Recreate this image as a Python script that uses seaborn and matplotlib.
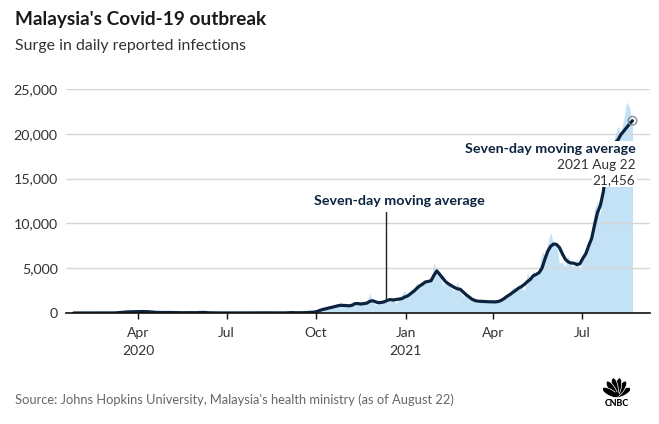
import matplotlib
matplotlib.use("Agg")
import numpy as np
import pandas as pd
import seaborn as sns
import matplotlib.pyplot as plt
from matplotlib.patches import Ellipse, Rectangle

# ---------------- data ----------------
# 7-day average, weekly points (Sundays) Jan 26 2020 .. Sep 13 2020
avg_early_start = "2020-01-26"
avg_early = [1, 1, 2, 1, 0, 1, 8, 70, 125, 150,
             165, 140, 75, 50, 60, 45, 30, 40, 35, 70,
             20, 10, 5, 5, 8, 12, 10, 12, 18, 10,
             12, 10, 45, 25]

# every third day, Sep 20 2020 .. Aug 22 2021
recent_start = "2020-09-20"
avg_recent = [40, 60, 80, 100, 170, 300, 400, 470, 560, 630,
              720, 800, 860, 850, 830, 800, 870, 1050, 1050, 1000,
              1050, 1100, 1300, 1370, 1250, 1150, 1180, 1250, 1400, 1500,
              1450, 1500, 1560, 1600, 1780, 1900, 2150, 2400, 2700, 3000,
              3200, 3450, 3520, 3600, 4200, 4700, 4300, 3900, 3500, 3250,
              3050, 2850, 2700, 2650, 2350, 2050, 1800, 1550, 1400, 1320,
              1300, 1290, 1270, 1250, 1250, 1240, 1280, 1400, 1600, 1850,
              2050, 2300, 2520, 2780, 2950, 3200, 3500, 3750, 4150, 4300,
              4500, 5000, 6000, 6900, 7450, 7700, 7650, 7300, 6600, 6000,
              5700, 5580, 5550, 5400, 5500, 6100, 6600, 7500, 8300, 9800,
              11200, 12000, 13500, 15800, 17600, 18500, 19000, 19300, 19900, 20300,
              20700, 21100, 21456]
daily_recent = [50, 82, 111, 101, 287, 432, 374, 561, 660, 869,
                862, 710, 1240, 649, 957, 1032, 852, 869, 1109, 1208,
                1290, 1096, 2188, 1315, 851, 1141, 1123, 1478, 1229, 1295,
                1683, 1018, 1581, 2041, 2525, 1704, 2593, 2643, 3309, 3142,
                3306, 3631, 3346, 3585, 5728, 4214, 4734, 3100, 3384, 3297,
                2720, 2461, 3545, 2364, 1828, 2063, 1745, 1529, 1340, 1063,
                1575, 1116, 1294, 1143, 1288, 1358, 1139, 1514, 1889, 2148,
                1998, 2875, 2847, 2776, 2881, 2500, 4519, 3733, 4765, 4113,
                4865, 6806, 6509, 7857, 9020, 7703, 7748, 5566, 5671, 5150,
                6440, 5293, 5244, 6180, 4700, 6658, 6387, 7654, 9105, 11618,
                12541, 10972, 15573, 14516, 17170, 17786, 19819, 20889, 19991, 21668,
                23564, 22948, 20696]

tick_dates = ["2020-04-01", "2020-07-01", "2020-10-01", "2021-01-01", "2021-04-01", "2021-07-01"]
tick_labels = ["Apr\n2020", "Jul", "Oct", "Jan\n2021", "Apr", "Jul"]
y_ticks = [0, 5000, 10000, 15000, 20000, 25000]

title = "Malaysia's Covid-19 outbreak"
subtitle = "Surge in daily reported infections"
source = "Source: Johns Hopkins University, Malaysia's health ministry (as of August 22)"
note_mid = "Seven-day moving average"
note_date = "2021 Aug 22"
note_value = "21,456"
note_mid_date = "2020-12-12"

# ---------------- frames ----------------
early_dates = pd.date_range(avg_early_start, periods=len(avg_early), freq="7D")
recent_dates = pd.date_range(recent_start, periods=len(avg_recent), freq="3D")
avg_df = pd.DataFrame({
    "date": list(early_dates) + list(recent_dates),
    "avg": avg_early + avg_recent,
})
daily_df = pd.DataFrame({"date": recent_dates, "cases": daily_recent})

# ---------------- figure ----------------
sns.set_theme(style="white")
plt.rcParams["font.family"] = ["Lato", "DejaVu Sans"]

NAVY = "#0c2340"
AREA = "#c4e2f5"

fig = plt.figure(figsize=(6.59, 4.24), dpi=100)
ax = fig.add_axes([66 / 659, 111 / 424, 584 / 659, 224 / 424])

ax.fill_between(daily_df["date"], 0, daily_df["cases"], color=AREA, lw=0, zorder=1)
sns.lineplot(data=avg_df, x="date", y="avg", ax=ax, color=NAVY, lw=2.3, zorder=3)

last = avg_df.iloc[-1]
ax.scatter([last["date"]], [last["avg"]], s=38, facecolor="none", edgecolor="#8a8a8a",
           lw=1, zorder=6)

ax.set_xlim(pd.Timestamp("2020-01-18"), pd.Timestamp("2021-09-09"))
ax.set_ylim(0, 25000)
ax.set_yticks(y_ticks)
ax.set_yticklabels([f"{v:,}" for v in y_ticks])
ax.set_xticks(pd.to_datetime(tick_dates))
ax.set_xticklabels(tick_labels, linespacing=1.6)
ax.set_xlabel("")
ax.set_ylabel("")

ax.set_axisbelow("line")
ax.yaxis.grid(True, color="#d6d6d6", lw=1)
ax.xaxis.grid(False)
for s in ["left", "top", "right"]:
    ax.spines[s].set_visible(False)
ax.spines["bottom"].set_color("#111111")
ax.spines["bottom"].set_linewidth(1.2)
ax.spines["bottom"].set_zorder(4)
ax.tick_params(axis="x", length=4, width=1, colors="#111111", labelcolor="#333333",
               labelsize=10, pad=6, direction="out", bottom=True)
ax.tick_params(axis="y", length=0, labelsize=10.3, labelcolor="#333333", pad=6)

# middle annotation
mid_x = pd.Timestamp(note_mid_date)
mid_val = np.interp(mid_x.value, avg_df["date"].astype("int64"), avg_df["avg"])
ax.plot([mid_x, mid_x], [mid_val, 11300], color="#222222", lw=1, zorder=4)
ax.text(pd.Timestamp("2020-09-29"), 12450, note_mid, ha="left", va="center",
        fontsize=10.3, fontweight="bold", color=NAVY, zorder=7)

# right annotation with white backing
ax.add_patch(Rectangle((pd.Timestamp("2021-07-22"), 14250),
                       pd.Timedelta(days=36), 5000, facecolor="white",
                       edgecolor="none", zorder=5))
ax.text(pd.Timestamp("2021-08-25"), 18280, note_mid, ha="right", va="center",
        fontsize=10.3, fontweight="bold", color=NAVY, zorder=7,
        bbox=dict(facecolor="white", edgecolor="none", pad=1))
ax.text(pd.Timestamp("2021-08-25"), 16500, note_date, ha="right", va="center",
        fontsize=9.8, color="#333333", zorder=7,
        bbox=dict(facecolor="white", edgecolor="none", pad=0.5))
ax.text(pd.Timestamp("2021-08-25"), 14830, note_value, ha="right", va="center",
        fontsize=9.8, color="#333333", zorder=7,
        bbox=dict(facecolor="white", edgecolor="none", pad=0.5))

# titles and source
fig.text(15 / 659, 1 - 20 / 424, title, ha="left", va="center", fontsize=13.7,
         fontweight="bold", color="#1a1a1a")
fig.text(15 / 659, 1 - 46 / 424, subtitle, ha="left", va="center", fontsize=11.4,
         color="#333333")
fig.text(15 / 659, 1 - 400 / 424, source, ha="left", va="center", fontsize=9.3,
         color="#666666")

# CNBC peacock logo (pixel units inside a small axes)
lax = fig.add_axes([603 / 659, (424 - 398) / 424, 27 / 659, 23 / 424])
lax.set_xlim(0, 27)
lax.set_ylim(0, 23)
lax.axis("off")
cx, cy = 13.5, 2
for ang in np.linspace(22, 158, 6):
    t = np.deg2rad(ang)
    r = 9.5
    lax.add_patch(Ellipse((cx + 0.75 * r * np.cos(t), cy + r * np.sin(t)), 18, 6.4,
                          angle=np.rad2deg(np.arctan2(np.sin(t), 0.75 * np.cos(t))),
                          facecolor="black", edgecolor="white", lw=0.5))
lax.add_patch(Ellipse((cx, cy + 1.5), 5, 5, facecolor="black", edgecolor="none"))
fig.text(616.5 / 659, 1 - 403 / 424, "CNBC", ha="center", va="center", fontsize=6.4,
         fontweight="black", color="black")

fig.savefig("out.png", dpi=100)
